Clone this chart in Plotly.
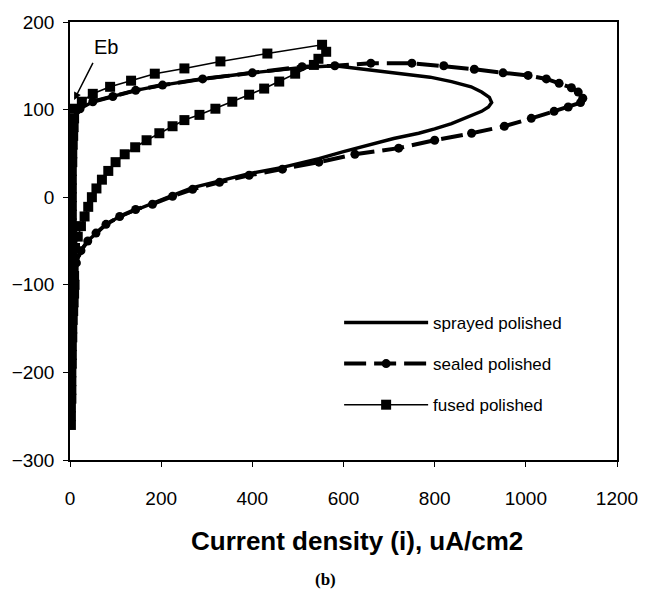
import plotly.graph_objects as go

# Shared forward-scan potentials (mV) along the left edge
E_fwd = [-260, -250, -240, -230, -220, -210, -200, -190, -180, -170, -160, -150,
         -140, -130, -120, -110, -100, -90, -80, -70, -60, -50, -40, -30, -20, -10,
         0, 10, 20, 30, 40, 50, 60, 70, 80, 90]

# sprayed polished
sprayed_i_fwd = [1, 1, 1, 1, 2, 2, 2, 2, 2, 3, 3, 3, 4, 4, 5, 6, 7, 6, 5, 4, 4, 3, 3,
                 2, 2, 2, 2, 2, 2, 2, 3, 3, 4, 5, 6, 8]
sprayed_i_loop = [22, 50, 94, 144, 203, 291, 400, 509, 581, 650, 728, 790, 837, 880, 903,
                  920, 925, 918, 903, 870, 837, 800, 765, 710, 656, 600, 546, 466, 393, 328,
                  269, 225, 181, 144, 109, 79, 57, 39, 24, 14, 8, 5]
sprayed_E_loop = [101, 109, 115, 122, 128, 135, 142, 148, 150, 146, 141, 137, 132, 126, 120,
                  114, 108, 103, 98, 91, 84, 78, 73, 67, 60, 52, 44, 34, 27, 19,
                  11, 2, -7, -14, -22, -31, -41, -50, -61, -75, -90, -110]

# sealed polished
sealed_i_fwd = [1, 1, 1, 2, 2, 2, 2, 3, 3, 3, 4, 4, 5, 6, 7, 8, 9, 8, 7, 6, 5, 4, 4,
                3, 3, 3, 3, 3, 3, 3, 4, 4, 5, 6, 7, 9]
sealed_i_loop = [22, 50, 94, 144, 203, 291, 400, 509, 581, 660, 750, 820, 887, 950, 1005,
                 1045, 1073, 1100, 1115, 1125, 1120, 1093, 1062, 1012, 953, 881, 800, 721, 625, 546,
                 466, 393, 328, 269, 225, 181, 144, 109, 79, 57, 39, 24, 14, 8, 5]
sealed_E_loop = [101, 109, 115, 122, 128, 135, 142, 149, 150, 153, 153, 150, 146, 142, 139,
                 135, 130, 125, 120, 113, 108, 103, 98, 90, 81, 73, 65, 56, 49, 40,
                 32, 25, 17, 9, 1, -8, -14, -22, -31, -41, -50, -61, -75, -90, -110]

# fused polished
fused_i_fwd = [2, 2, 2, 3, 3, 3, 3, 4, 4, 4, 5, 5, 6, 7, 8, 9, 10, 9, 8, 7, 6, 5, 5,
               4, 4, 4, 4, 4, 4, 4, 5, 5, 6, 7, 8, 9]
fused_i_loop = [11, 26, 50, 88, 134, 186, 251, 330, 433, 553, 562, 545, 535, 494, 459,
                426, 393, 356, 319, 284, 251, 225, 196, 168, 143, 120, 100, 84, 70, 58,
                48, 40, 32, 24, 17, 11, 7, 5]
fused_E_loop = [101, 109, 118, 126, 133, 141, 147, 155, 164, 174, 166, 158, 151, 141, 132,
                124, 117, 109, 101, 94, 88, 81, 73, 65, 57, 49, 40, 30, 20, 10,
                0, -11, -22, -33, -45, -58, -72, -90]

x_ticks = [0, 200, 400, 600, 800, 1000, 1200]
y_ticks = [-300, -200, -100, 0, 100, 200]

FONT = "Liberation Sans, Arial, sans-serif"

fig = go.Figure()

fig.add_trace(go.Scatter(
    x=sprayed_i_fwd + sprayed_i_loop, y=E_fwd + sprayed_E_loop,
    mode="lines", name="sprayed polished", legendgroup="a",
    line=dict(color="black", width=3.4),
))
fig.add_trace(go.Scatter(
    x=sealed_i_fwd + sealed_i_loop, y=E_fwd + sealed_E_loop,
    mode="lines+markers", name="sealed polished", legendgroup="b",
    line=dict(color="black", width=4, dash="22px,8px"),
    marker=dict(symbol="circle", size=9, color="black"),
))
fig.add_trace(go.Scatter(
    x=fused_i_fwd + fused_i_loop, y=E_fwd + fused_E_loop,
    mode="lines+markers", name="fused polished", legendgroup="c",
    line=dict(color="black", width=1.6),
    marker=dict(symbol="square", size=10, color="black"),
))

fig.update_layout(
    width=652, height=592,
    margin=dict(l=68, r=35, t=20, b=132),
    paper_bgcolor="white", plot_bgcolor="white",
    font=dict(family=FONT, color="black", size=19),
    showlegend=True,
    legend=dict(x=0.492, y=0.354, xanchor="left", yanchor="top",
                bgcolor="rgba(0,0,0,0)", font=dict(size=17, family=FONT),
                itemwidth=84, tracegroupgap=16, traceorder="grouped"),
    xaxis=dict(range=[0, 1200], tickvals=x_ticks, ticks="outside", ticklen=5,
               tickwidth=1, tickcolor="black", showline=True, linecolor="black",
               linewidth=1.5, mirror=True, showgrid=False, zeroline=False,
               ticklabelstandoff=15, tickfont=dict(size=19, family=FONT)),
    yaxis=dict(range=[-300, 200], tickvals=y_ticks, ticks="outside", ticklen=5,
               tickwidth=1, tickcolor="black", showline=True, linecolor="black",
               linewidth=1.5, mirror=True, showgrid=False, zeroline=False,
               ticklabelstandoff=5, tickfont=dict(size=19, family=FONT)),
)

fig.add_annotation(x=9, y=111, ax=52, ay=155, axref="x", ayref="y",
                   xref="x", yref="y", text="", showarrow=True,
                   arrowhead=2, arrowsize=1, arrowwidth=1.5, arrowcolor="black")
fig.add_annotation(x=79, y=172, xref="x", yref="y", text="Eb", showarrow=False,
                   font=dict(size=20, family=FONT), xanchor="center", yanchor="middle")
fig.add_annotation(x=0.525, y=-0.184, xref="paper", yref="paper",
                   text="<b>Current density (i), uA/cm2</b>", showarrow=False,
                   font=dict(size=26, family=FONT), xanchor="center", yanchor="middle")
fig.add_annotation(x=0.468, y=-0.273, xref="paper", yref="paper",
                   text="<b>(b)</b>", showarrow=False,
                   font=dict(size=17, family="Liberation Serif, Times New Roman, serif"),
                   xanchor="center", yanchor="middle")

fig.write_html("out.html", config={"displayModeBar": False},
               post_script="document.body.style.margin='0';")
